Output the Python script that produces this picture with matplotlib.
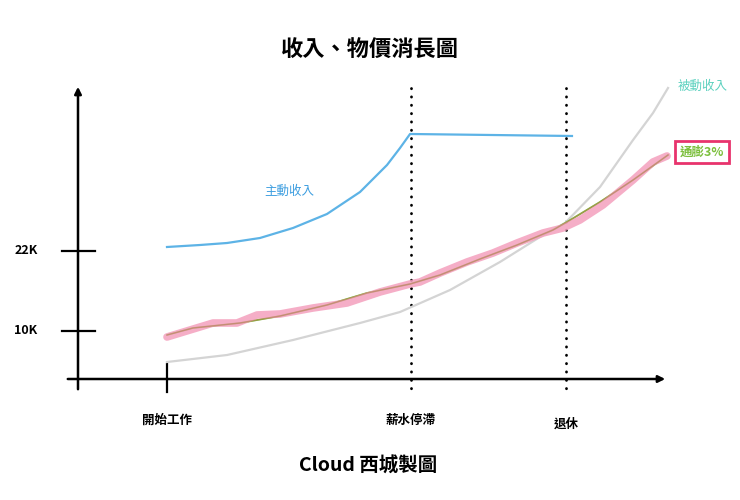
import numpy as np
import matplotlib
matplotlib.use("Agg")
import matplotlib.pyplot as plt
from matplotlib.patches import FancyArrowPatch

plt.rcParams['font.family'] = ['Noto Sans CJK TC', 'DejaVu Sans']

# x in age (years), y in thousands
active_x = [22.0, 25.56, 28.47, 32.02, 35.58, 39.24, 42.80, 45.71, 47.11, 48.19, 65.64]
active_y = [22.60, 22.90, 23.20, 23.95, 25.45, 27.55, 30.85, 34.90, 37.45, 39.55, 39.25]

passive_x = [22.0, 28.47, 35.58, 42.80, 47.11, 52.50, 57.88, 62.19, 64.89, 68.66,
             72.22, 74.37, 75.99]
passive_y = [5.35, 6.40, 8.65, 11.20, 12.85, 16.15, 20.35, 24.10, 26.20, 31.60,
             38.65, 42.70, 46.45]

infl_x = [22.0, 24.80, 29.87, 34.18, 39.24, 43.55, 48.19, 51.42, 55.73, 59.72,
          63.59, 65.10, 68.66, 72.22, 75.99]
infl_y = [9.40, 10.45, 11.20, 12.25, 13.90, 15.70, 17.05, 18.40, 20.80, 22.90,
          25.15, 26.35, 29.35, 32.65, 36.40]

# hand-drawn (wobbly) inflation trace
wavy_x = [22.0, 24.48, 26.96, 29.54, 31.70, 34.18, 37.73, 41.40, 44.95, 48.19, 49.26,
          51.42, 54.33, 57.13, 59.72, 62.52, 64.67, 66.50, 68.98, 72.22, 74.37, 75.88]
wavy_y = [9.10, 10.15, 11.20, 11.20, 12.40, 12.55, 13.45, 14.20, 15.85, 17.05, 17.35,
          18.70, 20.35, 21.70, 23.20, 24.70, 25.45, 26.65, 28.90, 32.65, 35.35, 36.25]

yticks = [10, 22]
ytick_labels = ['10K', '22K']
milestones = [22, 48.3, 65.0]
milestone_labels = ['開始工作', '薪水停滯', '退休']

fig = plt.figure(figsize=(7.4, 5), dpi=100)
ax = fig.add_axes([0, 0, 1, 1])
px = 9.28   # pixels per year
py = 6.667  # pixels per K
ax.set_xlim(22 - 167 / px, 22 + 573 / px)
ax.set_ylim(10 - 169 / py, 10 + 331 / py)
ax.axis('off')

def X(p):
    return 22 + (p - 167) / px

def Y(p):
    return 10 + (331 - p) / py

# axes with arrows
ax.add_patch(FancyArrowPatch((X(78), Y(392)), (X(78), Y(84)), arrowstyle='-|>',
                             mutation_scale=10, lw=1.8, color='black'))
ax.add_patch(FancyArrowPatch((X(65), Y(379)), (X(668), Y(379)), arrowstyle='-|>',
                             mutation_scale=10, lw=1.8, color='black'))

# y ticks
for v, lab in zip(yticks, ytick_labels):
    ax.plot([X(62), X(95)], [v, v], color='black', lw=1.6)
    ax.text(X(26), v, lab, ha='center', va='center', fontsize=9, fontweight='bold')

# start tick
ax.plot([22, 22], [Y(364), Y(392)], color='black', lw=1.6)

# dotted milestone lines
for m in milestones[1:]:
    ax.plot([m, m], [Y(88), Y(393)], color='black', lw=2.0,
            linestyle=(0, (0.1, 2.9)), dash_capstyle='round')

for m, lab, yp in zip(milestones, milestone_labels, [420, 420, 424]):
    ax.text(m, Y(yp), lab, ha='center', va='center', fontsize=9, fontweight='bold')

# curves
ax.plot(passive_x, passive_y, color='#d4d4d4', lw=1.6, solid_joinstyle='round')
ax.plot(infl_x, infl_y, color='#7cbf3c', lw=1.3)
ax.plot(wavy_x, wavy_y, color='#f4a0bd', lw=5.5, solid_capstyle='round',
        solid_joinstyle='round', alpha=0.85)
ax.plot(infl_x, infl_y, color='#b08050', lw=1.0, alpha=0.6)
ax.plot(active_x, active_y, color='#5db3e6', lw=1.6, solid_joinstyle='round')

ax.text(X(289), Y(191), '主動收入', color='#3d9ee0', fontsize=9,
        ha='center', va='center')
ax.text(X(703), Y(86), '被動收入', color='#5cd1bf', fontsize=9,
        ha='center', va='center')
ax.text(X(702), Y(152), '通膨3%', color='#7cbf3c', fontsize=9, fontweight='bold',
        ha='center', va='center',
        bbox=dict(boxstyle='square,pad=0.35', fc='white', ec='#e8336d', lw=2))

ax.text(X(370), Y(50), '收入、物價消長圖', fontsize=16, fontweight='bold',
        ha='center', va='center')
ax.text(X(368), Y(466), 'Cloud 西城製圖', fontsize=14, fontweight='bold',
        ha='center', va='center')

fig.savefig('out.png', dpi=100)
